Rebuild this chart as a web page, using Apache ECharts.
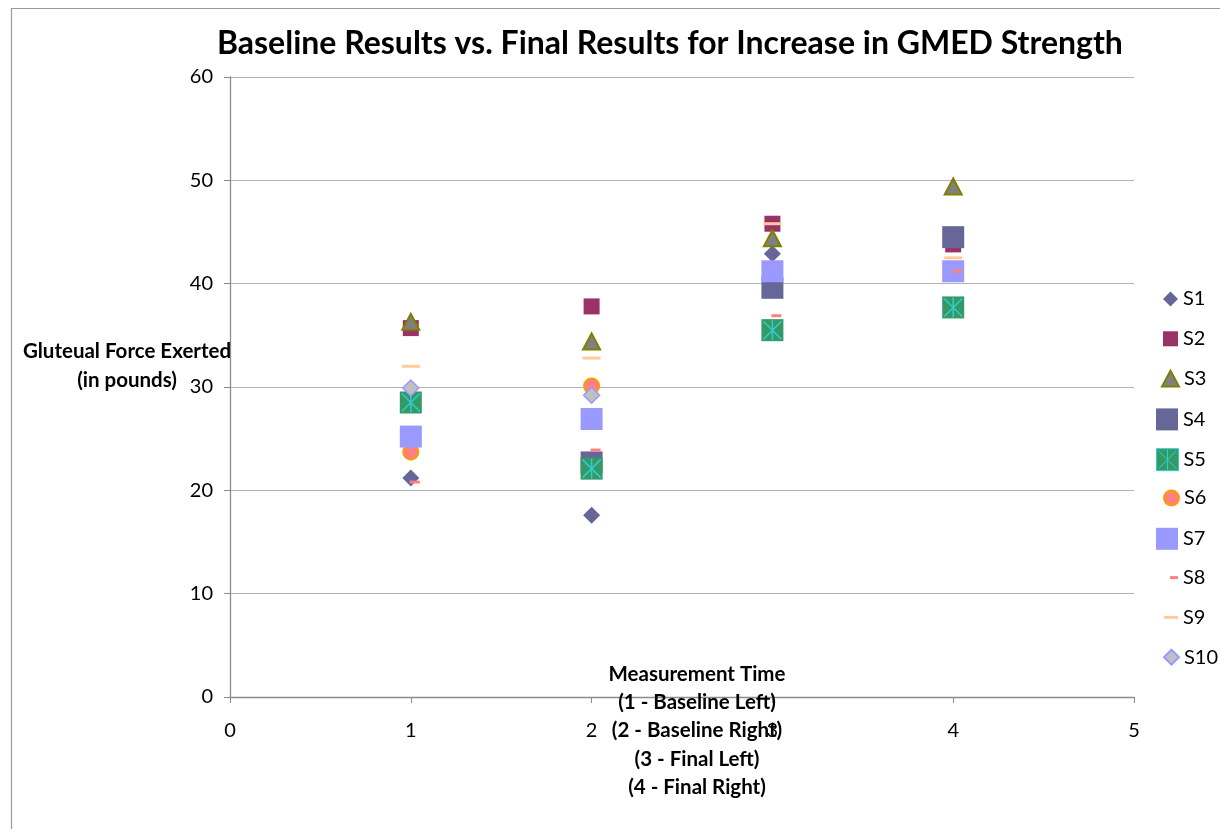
<!DOCTYPE html>
<html>
<head>
<meta charset="utf-8">
<script src="https://cdn.jsdelivr.net/npm/echarts@6/dist/echarts.min.js"></script>
<style>html,body{margin:0;padding:0;background:#fff;}#chart{width:1220px;height:829px;}</style>
</head>
<body>
<div id="chart"></div>
<script>
const xValues = [1, 2, 3, 4];
const seriesNames = ['S1','S2','S3','S4','S5','S6','S7','S8','S9','S10'];
const S1 = [21.2, 17.6, 42.9, null];
const S2 = [35.7, 37.8, 45.8, 43.8];
const S3 = [36.3, 34.4, 44.4, 49.4];
const S4 = [null, 22.7, 39.6, 44.5];
const S5 = [28.5, 22.1, 35.5, 37.7];
const S6 = [23.7, 30.1, null, null];
const S7 = [25.2, 26.9, 41.2, 41.2];
const S8 = [20.8, 23.9, 36.9, 41.2];
const S9 = [32.0, 32.8, 45.8, 42.5];
const S10 = [29.9, 29.2, null, null];
const xTicks = [0, 1, 2, 3, 4, 5];
const yTicks = [0, 10, 20, 30, 40, 50, 60];
const titleText = 'Baseline Results vs. Final Results for Increase in GMED Strength';
const yName = 'Gluteual Force Exerted\n(in pounds)';
const xName = 'Measurement Time\n(1 - Baseline Left)\n(2 - Baseline Right)\n(3 - Final Left)\n(4 - Final Right)';

const values = [S1,S2,S3,S4,S5,S6,S7,S8,S9,S10];
function pts(arr){ return xValues.map((x,i)=>[x, arr[i]]).filter(p=>p[1]!==null); }

const FONT = 'Lato';
const styles = {
  S1: {symbol:'diamond', size:[17,17], item:{color:'#666699'}},
  S2: {symbol:'rect', size:[16,16], item:{color:'#993366'}},
  S3: {symbol:'triangle', size:[17,16], item:{color:'#808080', borderColor:'#808000', borderWidth:2}},
  S4: {symbol:'rect', size:[22,22], item:{color:'#666699'}},
  S6: {symbol:'circle', size:[15,15], item:{color:'#FF8080', borderColor:'#FF9900', borderWidth:2}},
  S7: {symbol:'rect', size:[22,22], item:{color:'#9999FF'}},
  S8: {symbol:'rect', size:[10,3], offset:[4,0], item:{color:'#FF8080'}},
  S9: {symbol:'rect', size:[18,3], item:{color:'#FFCC99'}},
  S10: {symbol:'diamond', size:[16,16], item:{color:'#C0C0C0', borderColor:'#9999FF', borderWidth:1.5}}
};

const series = seriesNames.map((name, i) => {
  if (name === 'S5') {
    return {
      name, type:'custom', data: pts(values[i]), encode:{x:0,y:1}, z: 2 + i,
      itemStyle:{color:'#339966'},
      renderItem: function(params, api){
        const p = api.coord([api.value(0), api.value(1)]);
        const h = 11, d = 9;
        return {type:'group', children:[
          {type:'rect', shape:{x:p[0]-h, y:p[1]-h, width:2*h, height:2*h}, style:{fill:'#339966'}},
          {type:'line', shape:{x1:p[0], y1:p[1]-h+1, x2:p[0], y2:p[1]+h-1}, style:{stroke:'#33CCCC', lineWidth:1.5}},
          {type:'line', shape:{x1:p[0]-d, y1:p[1]-d, x2:p[0]+d, y2:p[1]+d}, style:{stroke:'#33CCCC', lineWidth:1.5}},
          {type:'line', shape:{x1:p[0]+d, y1:p[1]-d, x2:p[0]-d, y2:p[1]+d}, style:{stroke:'#33CCCC', lineWidth:1.5}}
        ]};
      }
    };
  }
  const st = styles[name];
  return {
    name, type:'scatter', data: pts(values[i]), z: 2 + i,
    symbol: st.symbol, symbolSize: st.size, symbolOffset: st.offset || [0,0],
    itemStyle: Object.assign({opacity:1}, st.item), emphasis:{disabled:true}
  };
});

const legendIcons = {
  S1:{icon:'diamond', w:15, h:15},
  S2:{icon:'rect', w:15, h:15},
  S3:{icon:'triangle', w:17, h:16},
  S4:{icon:'rect', w:22, h:22},
  S5:{icon:'path://M0,0H22V22H0ZM11,1V21M2,2L20,20M20,2L2,20', w:22, h:22},
  S6:{icon:'circle', w:15, h:15},
  S7:{icon:'rect', w:22, h:22},
  S8:{icon:'rect', w:8, h:3},
  S9:{icon:'rect', w:14, h:3},
  S10:{icon:'diamond', w:15, h:15}
};
const legendStyle = {
  S2:{color:'#993366', borderWidth:0, opacity:1},
  S5:{color:'#339966', borderColor:'#33CCCC', borderWidth:1}
};
const legends = seriesNames.map((name, i) => {
  const li = legendIcons[name];
  const cy = 296 + i * 39.8;
  return {
    show:true, orient:'vertical', left: 1173 - li.w, top: cy - 12,
    itemWidth: li.w, itemHeight: li.h, itemGap: 0, selectedMode:false,
    textStyle:{fontFamily:FONT, fontSize:20, color:'#000', padding:[0,0,0,0]},
    data:[{name, icon: li.icon, itemStyle: legendStyle[name]}]
  };
});

const chart = echarts.init(document.getElementById('chart'), null, {renderer:'canvas'});
chart.setOption({
  backgroundColor:'#fff',
  animation:false,
  title:{text:titleText, left:212, top:23,
    textStyle:{fontFamily:FONT, fontSize:32, fontWeight:'bold', color:'#000'}},
  legend: legends,
  grid:{left:230, right:86, top:77, bottom:132, containLabel:false},
  xAxis:{type:'value', min:xTicks[0], max:xTicks[xTicks.length-1], interval:1,
    axisLine:{show:true, lineStyle:{color:'#8c8c8c', width:1.3}},
    axisTick:{show:true, length:6, inside:false, lineStyle:{color:'#8c8c8c'}},
    splitLine:{show:false},
    axisLabel:{margin:24, fontFamily:FONT, fontSize:20, color:'#000'}},
  yAxis:{type:'value', min:yTicks[0], max:yTicks[yTicks.length-1], interval:10,
    axisLine:{show:true, lineStyle:{color:'#8c8c8c', width:1.3}},
    axisTick:{show:true, length:6, inside:false, lineStyle:{color:'#8c8c8c'}},
    splitLine:{show:true, lineStyle:{color:'#b3b3b3', width:1}},
    axisLabel:{margin:17, fontFamily:FONT, fontSize:20, color:'#000'}},
  graphic:[
    {type:'rect', left:9, top:6, shape:{width:1400, height:1000}, silent:true, z:-10,
      style:{fill:null, stroke:'#999', lineWidth:1.2}},
    {type:'text', x:127, y:337, z:10,
      style:{text:yName, fontFamily:FONT, fontSize:20.5, fontWeight:'bold', fill:'#000',
        textAlign:'center', textVerticalAlign:'top', lineHeight:29}},
    {type:'text', x:697, y:660, z:10,
      style:{text:xName, fontFamily:FONT, fontSize:20.5, fontWeight:'bold', fill:'#000',
        textAlign:'center', textVerticalAlign:'top', lineHeight:28.3}}
  ],
  series: series
});
</script>
</body>
</html>
